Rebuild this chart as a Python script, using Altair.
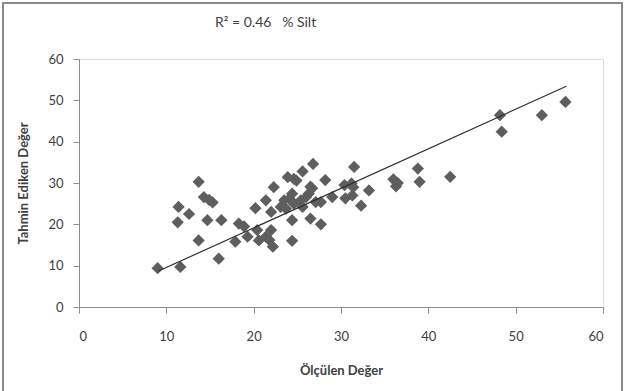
import altair as alt
import pandas as pd

olculen = [9.0, 11.6, 11.4, 11.3, 12.6, 13.7, 13.7, 14.3, 14.9, 15.3,
           14.7, 16.3, 16.0, 17.9, 18.3, 18.9, 19.3, 20.2, 20.4, 20.6,
           21.4, 22.0, 21.4, 22.0, 22.2, 22.3, 21.8, 23.9, 24.6, 25.6,
           26.8, 24.4, 24.4, 26.5, 27.7, 26.5, 28.2, 29.0, 27.7, 23.5,
           24.1, 24.6, 25.4, 26.0, 26.3, 26.7, 27.1, 23.1, 23.7, 25.6,
           24.4, 31.5, 30.4, 30.5, 32.3, 33.2, 31.2, 31.3, 31.4, 36.0,
           36.3, 36.5, 38.8, 39.0, 42.5, 48.2, 48.4, 53.0, 55.7, 24.9]
tahmin = [9.4, 9.7, 24.2, 20.5, 22.5, 30.3, 16.1, 26.6, 25.9, 25.3,
          21.0, 21.0, 11.7, 15.8, 20.2, 19.5, 17.0, 23.9, 18.6, 16.1,
          25.8, 23.0, 17.0, 18.6, 14.6, 29.0, 16.2, 31.4, 31.0, 32.8,
          34.6, 21.0, 16.0, 21.4, 20.0, 29.1, 30.7, 26.6, 25.4, 25.8,
          26.2, 25.0, 25.8, 26.6, 27.4, 28.7, 25.4, 24.2, 23.8, 24.2,
          27.4, 33.9, 29.5, 26.3, 24.5, 28.2, 29.9, 27.0, 29.0, 30.9,
          29.2, 30.0, 33.5, 30.3, 31.5, 46.4, 42.4, 46.4, 49.6, 30.6]

# trend line end points
trend_x = [9.1, 55.8]
trend_y = [8.7, 53.4]

title_text = ["R² = 0.46\u00a0\u00a0\u00a0% Silt"]

pts = pd.DataFrame({"x": olculen, "y": tahmin})
trend = pd.DataFrame({"x": trend_x, "y": trend_y})

FONT = "Lato"

xscale = alt.Scale(domain=[0, 60], nice=False)
yscale = alt.Scale(domain=[0, 60], nice=False)

xaxis = alt.Axis(title="Ölçülen Değer", values=[0, 10, 20, 30, 40, 50, 60],
                 grid=False, domainColor="#8c8c8c", tickColor="#8c8c8c",
                 tickSize=6, labelPadding=17, titlePadding=21,
                 labelFont=FONT, labelFontSize=13, labelColor="#404040",
                 titleFont=FONT, titleFontSize=13, titleFontWeight="bold",
                 titleColor="#404040")
yaxis = alt.Axis(title="Tahmin Ediken Değer", values=[0, 10, 20, 30, 40, 50, 60],
                 grid=False, domainColor="#8c8c8c", tickColor="#8c8c8c",
                 tickSize=6, labelPadding=10, titlePadding=17,
                 labelFont=FONT, labelFontSize=13, labelColor="#404040",
                 titleFont=FONT, titleFontSize=13, titleFontWeight="bold",
                 titleColor="#404040")

points = alt.Chart(pts).mark_point(shape="diamond", filled=True, size=150,
                                   color="#5e5e5e", opacity=1).encode(
    x=alt.X("x:Q", scale=xscale, axis=xaxis),
    y=alt.Y("y:Q", scale=yscale, axis=yaxis),
)

line = alt.Chart(trend).mark_line(color="#2f2f2f", strokeWidth=1.2).encode(
    x=alt.X("x:Q", scale=xscale),
    y=alt.Y("y:Q", scale=yscale),
)

frame = alt.Chart(pd.DataFrame({"a": [0]})).mark_rect(
    fill=None, stroke="#8a8a8a", strokeWidth=2, clip=False
).encode(
    x=alt.value(-76), x2=alt.value(543),
    y=alt.value(-56), y2=alt.value(84 + 248 + 10),
)

title = alt.Chart(pd.DataFrame({"t": title_text})).mark_text(
    align="left", baseline="alphabetic", font=FONT, fontSize=14,
    color="#404040", clip=False
).encode(text="t:N", x=alt.value(136), y=alt.value(-32))

chart = alt.layer(frame, points, line, title).properties(
    width=524, height=248,
    padding={"left": 79, "top": 59, "right": 23, "bottom": 84},
    autosize=alt.AutoSizeParams(type="none"),
).configure_view(stroke=None).configure(background="white")

chart.save("out.html", embed_options={"renderer": "svg", "actions": False})
